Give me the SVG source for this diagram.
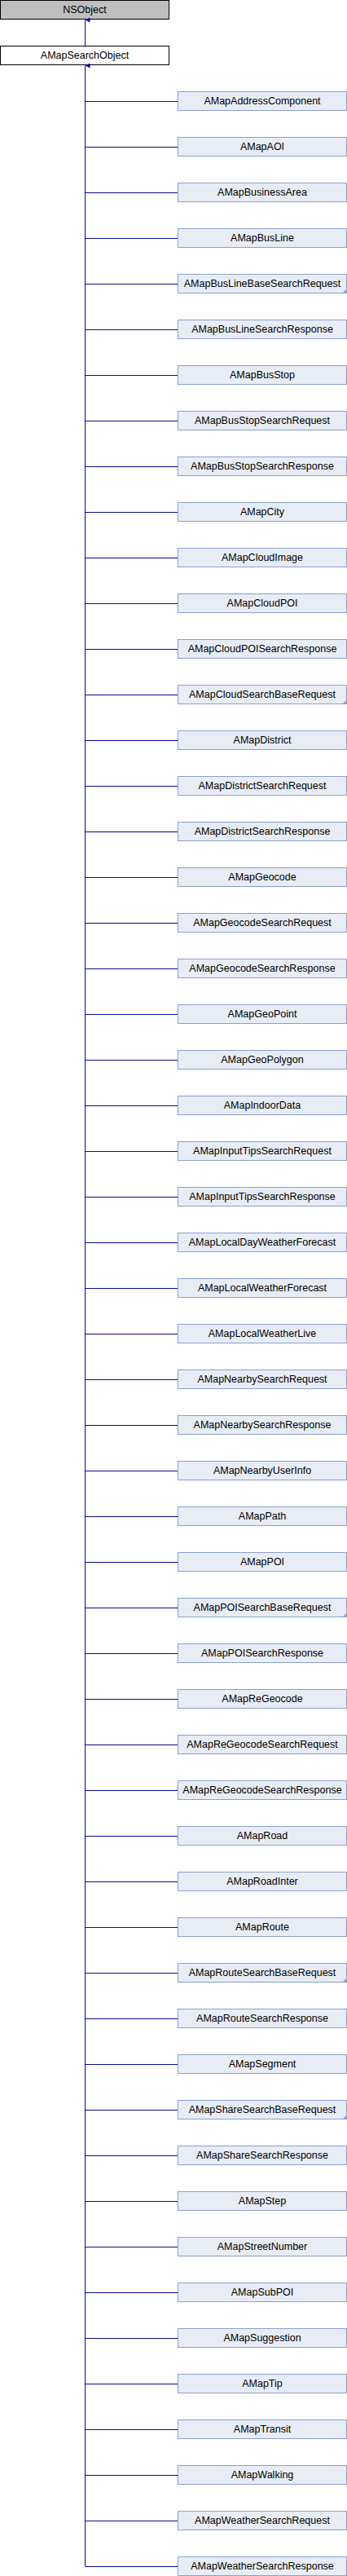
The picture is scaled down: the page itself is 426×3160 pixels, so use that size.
<svg xmlns="http://www.w3.org/2000/svg" width="426" height="3160" viewBox="0 0 426 3160">
<style>
text{font-family:"Liberation Sans",Arial,sans-serif;font-size:12.5px;fill:#000;text-anchor:middle}
.n rect{fill:#E8ECF5;stroke:#8CA0D0;stroke-width:1}
.c line{stroke:#0A0A96;stroke-width:1}
.tri{fill:#8CA0D0}
</style>
<defs>
<marker id="ah" markerWidth="6" markerHeight="6" refX="3" refY="0" orient="auto" markerUnits="userSpaceOnUse" viewBox="0 0 6 6">
<path d="M0,6 L3,0 L6,6 Z" fill="#0A0A96"/>
</marker>
</defs>
<g id="NSObject"><rect x="0.5" y="0.5" width="207" height="23" fill="#BFBFBF" stroke="#000"/><text x="104" y="16">NSObject</text></g>
<g id="AMapSearchObject"><rect x="0.5" y="56.5" width="207" height="23" fill="#FFF" stroke="#000"/><text x="104" y="72">AMapSearchObject</text></g>
<g class="c" id="connectors">
<line x1="104.5" y1="56" x2="104.5" y2="24.5" marker-end="url(#ah)"/>
<line x1="104.5" y1="3148" x2="104.5" y2="80.5" marker-end="url(#ah)"/>
<line x1="104.5" y1="124.5" x2="218" y2="124.5"/>
<line x1="104.5" y1="180.5" x2="218" y2="180.5"/>
<line x1="104.5" y1="236.5" x2="218" y2="236.5"/>
<line x1="104.5" y1="292.5" x2="218" y2="292.5"/>
<line x1="104.5" y1="348.5" x2="218" y2="348.5"/>
<line x1="104.5" y1="404.5" x2="218" y2="404.5"/>
<line x1="104.5" y1="460.5" x2="218" y2="460.5"/>
<line x1="104.5" y1="516.5" x2="218" y2="516.5"/>
<line x1="104.5" y1="572.5" x2="218" y2="572.5"/>
<line x1="104.5" y1="628.5" x2="218" y2="628.5"/>
<line x1="104.5" y1="684.5" x2="218" y2="684.5"/>
<line x1="104.5" y1="740.5" x2="218" y2="740.5"/>
<line x1="104.5" y1="796.5" x2="218" y2="796.5"/>
<line x1="104.5" y1="852.5" x2="218" y2="852.5"/>
<line x1="104.5" y1="908.5" x2="218" y2="908.5"/>
<line x1="104.5" y1="964.5" x2="218" y2="964.5"/>
<line x1="104.5" y1="1020.5" x2="218" y2="1020.5"/>
<line x1="104.5" y1="1076.5" x2="218" y2="1076.5"/>
<line x1="104.5" y1="1132.5" x2="218" y2="1132.5"/>
<line x1="104.5" y1="1188.5" x2="218" y2="1188.5"/>
<line x1="104.5" y1="1244.5" x2="218" y2="1244.5"/>
<line x1="104.5" y1="1300.5" x2="218" y2="1300.5"/>
<line x1="104.5" y1="1356.5" x2="218" y2="1356.5"/>
<line x1="104.5" y1="1412.5" x2="218" y2="1412.5"/>
<line x1="104.5" y1="1468.5" x2="218" y2="1468.5"/>
<line x1="104.5" y1="1524.5" x2="218" y2="1524.5"/>
<line x1="104.5" y1="1580.5" x2="218" y2="1580.5"/>
<line x1="104.5" y1="1636.5" x2="218" y2="1636.5"/>
<line x1="104.5" y1="1692.5" x2="218" y2="1692.5"/>
<line x1="104.5" y1="1748.5" x2="218" y2="1748.5"/>
<line x1="104.5" y1="1804.5" x2="218" y2="1804.5"/>
<line x1="104.5" y1="1860.5" x2="218" y2="1860.5"/>
<line x1="104.5" y1="1916.5" x2="218" y2="1916.5"/>
<line x1="104.5" y1="1972.5" x2="218" y2="1972.5"/>
<line x1="104.5" y1="2028.5" x2="218" y2="2028.5"/>
<line x1="104.5" y1="2084.5" x2="218" y2="2084.5"/>
<line x1="104.5" y1="2140.5" x2="218" y2="2140.5"/>
<line x1="104.5" y1="2196.5" x2="218" y2="2196.5"/>
<line x1="104.5" y1="2252.5" x2="218" y2="2252.5"/>
<line x1="104.5" y1="2308.5" x2="218" y2="2308.5"/>
<line x1="104.5" y1="2364.5" x2="218" y2="2364.5"/>
<line x1="104.5" y1="2420.5" x2="218" y2="2420.5"/>
<line x1="104.5" y1="2476.5" x2="218" y2="2476.5"/>
<line x1="104.5" y1="2532.5" x2="218" y2="2532.5"/>
<line x1="104.5" y1="2588.5" x2="218" y2="2588.5"/>
<line x1="104.5" y1="2644.5" x2="218" y2="2644.5"/>
<line x1="104.5" y1="2700.5" x2="218" y2="2700.5"/>
<line x1="104.5" y1="2756.5" x2="218" y2="2756.5"/>
<line x1="104.5" y1="2812.5" x2="218" y2="2812.5"/>
<line x1="104.5" y1="2868.5" x2="218" y2="2868.5"/>
<line x1="104.5" y1="2924.5" x2="218" y2="2924.5"/>
<line x1="104.5" y1="2980.5" x2="218" y2="2980.5"/>
<line x1="104.5" y1="3036.5" x2="218" y2="3036.5"/>
<line x1="104.5" y1="3092.5" x2="218" y2="3092.5"/>
<line x1="104.5" y1="3148.5" x2="218" y2="3148.5"/>
</g>
<g class="n" id="AMapAddressComponent" transform="translate(218,112)"><rect x="0.5" y="0.5" width="207" height="23"/><text x="104" y="16">AMapAddressComponent</text></g>
<g class="n" id="AMapAOI" transform="translate(218,168)"><rect x="0.5" y="0.5" width="207" height="23"/><text x="104" y="16">AMapAOI</text></g>
<g class="n" id="AMapBusinessArea" transform="translate(218,224)"><rect x="0.5" y="0.5" width="207" height="23"/><text x="104" y="16">AMapBusinessArea</text></g>
<g class="n" id="AMapBusLine" transform="translate(218,280)"><rect x="0.5" y="0.5" width="207" height="23"/><text x="104" y="16">AMapBusLine</text></g>
<g class="n" id="AMapBusLineBaseSearchRequest" transform="translate(218,336)"><rect x="0.5" y="0.5" width="207" height="23"/><text x="104" y="16">AMapBusLineBaseSearchRequest</text><path class="tri" d="M208,18 L208,24 L202,24 Z"/></g>
<g class="n" id="AMapBusLineSearchResponse" transform="translate(218,392)"><rect x="0.5" y="0.5" width="207" height="23"/><text x="104" y="16">AMapBusLineSearchResponse</text></g>
<g class="n" id="AMapBusStop" transform="translate(218,448)"><rect x="0.5" y="0.5" width="207" height="23"/><text x="104" y="16">AMapBusStop</text></g>
<g class="n" id="AMapBusStopSearchRequest" transform="translate(218,504)"><rect x="0.5" y="0.5" width="207" height="23"/><text x="104" y="16">AMapBusStopSearchRequest</text></g>
<g class="n" id="AMapBusStopSearchResponse" transform="translate(218,560)"><rect x="0.5" y="0.5" width="207" height="23"/><text x="104" y="16">AMapBusStopSearchResponse</text></g>
<g class="n" id="AMapCity" transform="translate(218,616)"><rect x="0.5" y="0.5" width="207" height="23"/><text x="104" y="16">AMapCity</text></g>
<g class="n" id="AMapCloudImage" transform="translate(218,672)"><rect x="0.5" y="0.5" width="207" height="23"/><text x="104" y="16">AMapCloudImage</text></g>
<g class="n" id="AMapCloudPOI" transform="translate(218,728)"><rect x="0.5" y="0.5" width="207" height="23"/><text x="104" y="16">AMapCloudPOI</text></g>
<g class="n" id="AMapCloudPOISearchResponse" transform="translate(218,784)"><rect x="0.5" y="0.5" width="207" height="23"/><text x="104" y="16">AMapCloudPOISearchResponse</text></g>
<g class="n" id="AMapCloudSearchBaseRequest" transform="translate(218,840)"><rect x="0.5" y="0.5" width="207" height="23"/><text x="104" y="16">AMapCloudSearchBaseRequest</text><path class="tri" d="M208,18 L208,24 L202,24 Z"/></g>
<g class="n" id="AMapDistrict" transform="translate(218,896)"><rect x="0.5" y="0.5" width="207" height="23"/><text x="104" y="16">AMapDistrict</text></g>
<g class="n" id="AMapDistrictSearchRequest" transform="translate(218,952)"><rect x="0.5" y="0.5" width="207" height="23"/><text x="104" y="16">AMapDistrictSearchRequest</text></g>
<g class="n" id="AMapDistrictSearchResponse" transform="translate(218,1008)"><rect x="0.5" y="0.5" width="207" height="23"/><text x="104" y="16">AMapDistrictSearchResponse</text></g>
<g class="n" id="AMapGeocode" transform="translate(218,1064)"><rect x="0.5" y="0.5" width="207" height="23"/><text x="104" y="16">AMapGeocode</text></g>
<g class="n" id="AMapGeocodeSearchRequest" transform="translate(218,1120)"><rect x="0.5" y="0.5" width="207" height="23"/><text x="104" y="16">AMapGeocodeSearchRequest</text></g>
<g class="n" id="AMapGeocodeSearchResponse" transform="translate(218,1176)"><rect x="0.5" y="0.5" width="207" height="23"/><text x="104" y="16">AMapGeocodeSearchResponse</text></g>
<g class="n" id="AMapGeoPoint" transform="translate(218,1232)"><rect x="0.5" y="0.5" width="207" height="23"/><text x="104" y="16">AMapGeoPoint</text></g>
<g class="n" id="AMapGeoPolygon" transform="translate(218,1288)"><rect x="0.5" y="0.5" width="207" height="23"/><text x="104" y="16">AMapGeoPolygon</text></g>
<g class="n" id="AMapIndoorData" transform="translate(218,1344)"><rect x="0.5" y="0.5" width="207" height="23"/><text x="104" y="16">AMapIndoorData</text></g>
<g class="n" id="AMapInputTipsSearchRequest" transform="translate(218,1400)"><rect x="0.5" y="0.5" width="207" height="23"/><text x="104" y="16">AMapInputTipsSearchRequest</text></g>
<g class="n" id="AMapInputTipsSearchResponse" transform="translate(218,1456)"><rect x="0.5" y="0.5" width="207" height="23"/><text x="104" y="16">AMapInputTipsSearchResponse</text></g>
<g class="n" id="AMapLocalDayWeatherForecast" transform="translate(218,1512)"><rect x="0.5" y="0.5" width="207" height="23"/><text x="104" y="16">AMapLocalDayWeatherForecast</text></g>
<g class="n" id="AMapLocalWeatherForecast" transform="translate(218,1568)"><rect x="0.5" y="0.5" width="207" height="23"/><text x="104" y="16">AMapLocalWeatherForecast</text></g>
<g class="n" id="AMapLocalWeatherLive" transform="translate(218,1624)"><rect x="0.5" y="0.5" width="207" height="23"/><text x="104" y="16">AMapLocalWeatherLive</text></g>
<g class="n" id="AMapNearbySearchRequest" transform="translate(218,1680)"><rect x="0.5" y="0.5" width="207" height="23"/><text x="104" y="16">AMapNearbySearchRequest</text></g>
<g class="n" id="AMapNearbySearchResponse" transform="translate(218,1736)"><rect x="0.5" y="0.5" width="207" height="23"/><text x="104" y="16">AMapNearbySearchResponse</text></g>
<g class="n" id="AMapNearbyUserInfo" transform="translate(218,1792)"><rect x="0.5" y="0.5" width="207" height="23"/><text x="104" y="16">AMapNearbyUserInfo</text></g>
<g class="n" id="AMapPath" transform="translate(218,1848)"><rect x="0.5" y="0.5" width="207" height="23"/><text x="104" y="16">AMapPath</text></g>
<g class="n" id="AMapPOI" transform="translate(218,1904)"><rect x="0.5" y="0.5" width="207" height="23"/><text x="104" y="16">AMapPOI</text></g>
<g class="n" id="AMapPOISearchBaseRequest" transform="translate(218,1960)"><rect x="0.5" y="0.5" width="207" height="23"/><text x="104" y="16">AMapPOISearchBaseRequest</text><path class="tri" d="M208,18 L208,24 L202,24 Z"/></g>
<g class="n" id="AMapPOISearchResponse" transform="translate(218,2016)"><rect x="0.5" y="0.5" width="207" height="23"/><text x="104" y="16">AMapPOISearchResponse</text></g>
<g class="n" id="AMapReGeocode" transform="translate(218,2072)"><rect x="0.5" y="0.5" width="207" height="23"/><text x="104" y="16">AMapReGeocode</text></g>
<g class="n" id="AMapReGeocodeSearchRequest" transform="translate(218,2128)"><rect x="0.5" y="0.5" width="207" height="23"/><text x="104" y="16">AMapReGeocodeSearchRequest</text></g>
<g class="n" id="AMapReGeocodeSearchResponse" transform="translate(218,2184)"><rect x="0.5" y="0.5" width="207" height="23"/><text x="104" y="16">AMapReGeocodeSearchResponse</text></g>
<g class="n" id="AMapRoad" transform="translate(218,2240)"><rect x="0.5" y="0.5" width="207" height="23"/><text x="104" y="16">AMapRoad</text></g>
<g class="n" id="AMapRoadInter" transform="translate(218,2296)"><rect x="0.5" y="0.5" width="207" height="23"/><text x="104" y="16">AMapRoadInter</text></g>
<g class="n" id="AMapRoute" transform="translate(218,2352)"><rect x="0.5" y="0.5" width="207" height="23"/><text x="104" y="16">AMapRoute</text></g>
<g class="n" id="AMapRouteSearchBaseRequest" transform="translate(218,2408)"><rect x="0.5" y="0.5" width="207" height="23"/><text x="104" y="16">AMapRouteSearchBaseRequest</text><path class="tri" d="M208,18 L208,24 L202,24 Z"/></g>
<g class="n" id="AMapRouteSearchResponse" transform="translate(218,2464)"><rect x="0.5" y="0.5" width="207" height="23"/><text x="104" y="16">AMapRouteSearchResponse</text></g>
<g class="n" id="AMapSegment" transform="translate(218,2520)"><rect x="0.5" y="0.5" width="207" height="23"/><text x="104" y="16">AMapSegment</text></g>
<g class="n" id="AMapShareSearchBaseRequest" transform="translate(218,2576)"><rect x="0.5" y="0.5" width="207" height="23"/><text x="104" y="16">AMapShareSearchBaseRequest</text><path class="tri" d="M208,18 L208,24 L202,24 Z"/></g>
<g class="n" id="AMapShareSearchResponse" transform="translate(218,2632)"><rect x="0.5" y="0.5" width="207" height="23"/><text x="104" y="16">AMapShareSearchResponse</text></g>
<g class="n" id="AMapStep" transform="translate(218,2688)"><rect x="0.5" y="0.5" width="207" height="23"/><text x="104" y="16">AMapStep</text></g>
<g class="n" id="AMapStreetNumber" transform="translate(218,2744)"><rect x="0.5" y="0.5" width="207" height="23"/><text x="104" y="16">AMapStreetNumber</text></g>
<g class="n" id="AMapSubPOI" transform="translate(218,2800)"><rect x="0.5" y="0.5" width="207" height="23"/><text x="104" y="16">AMapSubPOI</text></g>
<g class="n" id="AMapSuggestion" transform="translate(218,2856)"><rect x="0.5" y="0.5" width="207" height="23"/><text x="104" y="16">AMapSuggestion</text></g>
<g class="n" id="AMapTip" transform="translate(218,2912)"><rect x="0.5" y="0.5" width="207" height="23"/><text x="104" y="16">AMapTip</text></g>
<g class="n" id="AMapTransit" transform="translate(218,2968)"><rect x="0.5" y="0.5" width="207" height="23"/><text x="104" y="16">AMapTransit</text></g>
<g class="n" id="AMapWalking" transform="translate(218,3024)"><rect x="0.5" y="0.5" width="207" height="23"/><text x="104" y="16">AMapWalking</text></g>
<g class="n" id="AMapWeatherSearchRequest" transform="translate(218,3080)"><rect x="0.5" y="0.5" width="207" height="23"/><text x="104" y="16">AMapWeatherSearchRequest</text></g>
<g class="n" id="AMapWeatherSearchResponse" transform="translate(218,3136)"><rect x="0.5" y="0.5" width="207" height="23"/><text x="104" y="16">AMapWeatherSearchResponse</text></g>
</svg>
